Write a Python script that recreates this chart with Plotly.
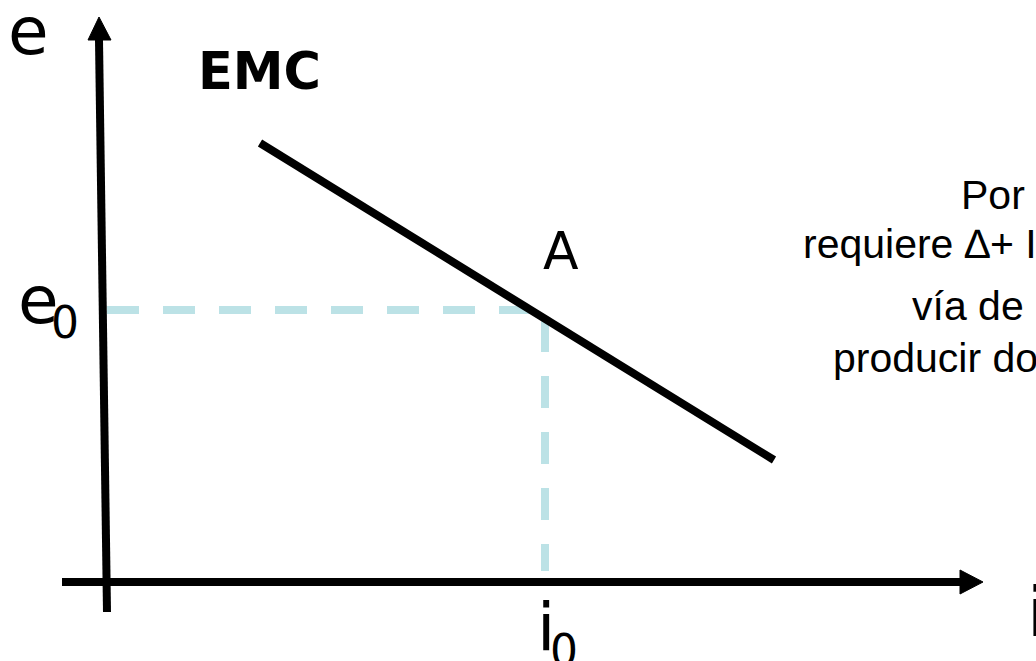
import plotly.graph_objects as go

# ---- data (diagram coordinates: origin at the axes' crossing) ----
emc_x = [153, 667]          # EMC curve end points (i)
emc_y = [439, 122]          # EMC curve end points (e)
e0 = 272                    # equilibrium e
i0 = 438                    # equilibrium i
dash_bottom = 11            # lower end of the vertical guide
x_axis_x = [-45, 853]       # horizontal axis shaft
x_tip = 876
y_axis_x = [0, -8]          # vertical axis shaft (slightly tilted)
y_axis_y = [-30, 542]
y_tip = 565

right_lines = ["Por", "requiere \u2206+ I", "v\u00eda de", "producir do"]
right_x = [854, 696, 805, 726]
right_y = [387, 338, 276, 224]

W, H = 1036, 661
OX, OY = 107, 582

fig = go.Figure()

black = "#000000"
guide = "#BCE2E6"

# dashed guides
fig.add_trace(go.Scatter(x=[0, i0, i0], y=[e0, e0, dash_bottom], mode="lines",
                         line=dict(color=guide, width=8, dash="32px,24px"),
                         hoverinfo="skip", showlegend=False))
# EMC curve
fig.add_trace(go.Scatter(x=emc_x, y=emc_y, mode="lines",
                         line=dict(color=black, width=8),
                         hoverinfo="skip", showlegend=False))
# x axis
fig.add_trace(go.Scatter(x=x_axis_x, y=[0, 0], mode="lines",
                         line=dict(color=black, width=8),
                         hoverinfo="skip", showlegend=False))
fig.add_trace(go.Scatter(x=[x_axis_x[1], x_tip, x_axis_x[1], x_axis_x[1]],
                         y=[12, 0, -12, 12], mode="lines", fill="toself",
                         fillcolor=black, line=dict(color=black, width=1),
                         hoverinfo="skip", showlegend=False))
# y axis
fig.add_trace(go.Scatter(x=y_axis_x, y=y_axis_y, mode="lines",
                         line=dict(color=black, width=8),
                         hoverinfo="skip", showlegend=False))
fig.add_trace(go.Scatter(x=[y_axis_x[1] - 11, y_axis_x[1], y_axis_x[1] + 12, y_axis_x[1] - 11],
                         y=[y_axis_y[1], y_tip, y_axis_y[1], y_axis_y[1]],
                         mode="lines", fill="toself", fillcolor=black,
                         line=dict(color=black, width=1),
                         hoverinfo="skip", showlegend=False))

dv = "DejaVu Sans"
ann = []
def label(text, x, y, size, family=dv, xanchor="center", yanchor="middle", bold=False):
    if bold:
        text = "<b>" + text + "</b>"
    ann.append(dict(text=text, x=x, y=y, xref="x", yref="y", showarrow=False,
                    xanchor=xanchor, yanchor=yanchor, borderpad=0, borderwidth=0,
                    font=dict(family=family, size=size, color=black)))

label("e", 28 - OX, OY - 31, 66)
label("e", 38 - OX, e0 + 10, 66)
label("0", 65 - OX, e0 - 12, 44)
label("EMC", 259 - OX, OY - 71, 51, bold=True)
label("A", 561 - OX, OY - 251, 52)
label("i", i0 + 1, OY - 627, 66)
label("0", i0 + 19, OY - 650, 44)
label("i", 1027 - OX, OY - 612, 68, xanchor="left")
for t, x, y in zip(right_lines, right_x, right_y):
    label(t, x, y, 41, family="Liberation Sans", xanchor="left")

fig.update_layout(
    width=W, height=H, margin=dict(l=0, r=0, t=0, b=0),
    paper_bgcolor="white", plot_bgcolor="white",
    xaxis=dict(range=[-OX, W - OX], visible=False, fixedrange=True),
    yaxis=dict(range=[OY - H, OY], visible=False, fixedrange=True),
    annotations=ann, showlegend=False,
)

fig.write_html("out.html", config={"displayModeBar": False},
               post_script="document.body.style.margin='0';document.body.style.overflow='hidden';")
